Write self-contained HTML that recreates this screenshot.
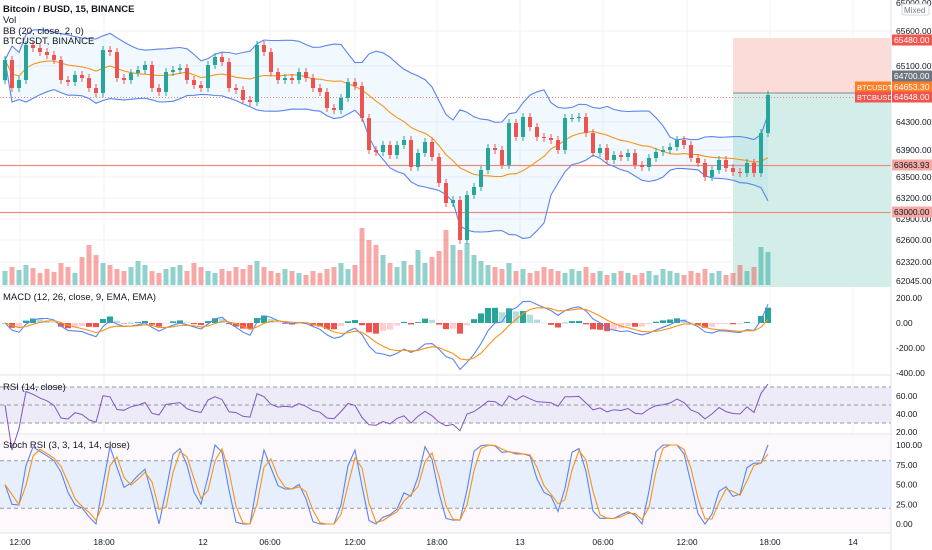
<!DOCTYPE html>
<html><head><meta charset="utf-8"><style>
html,body{margin:0;padding:0;background:#fff;width:932px;height:550px;overflow:hidden}
svg{display:block;font-family:"Liberation Sans",sans-serif}
</style></head><body>
<svg id="chart" width="932" height="550" viewBox="0 0 932 550" xmlns="http://www.w3.org/2000/svg">
<rect x="0" y="0" width="932" height="550" fill="#ffffff"/>
<g id="grid"></g>
<g id="panes"></g>
<g id="position">
  <rect x="733" y="38" width="158" height="55" fill="#fbdcd9"/>
  <rect x="733" y="93" width="158" height="194" fill="#d3eee8"/>
  <line x1="733" y1="93" x2="891" y2="93" stroke="#888" stroke-width="1"/>
</g>
<g id="levels">
  <line x1="0" y1="165.5" x2="891" y2="165.5" stroke="#f28b82" stroke-width="1.3"/>
  <line x1="0" y1="212.5" x2="891" y2="212.5" stroke="#f28b82" stroke-width="1.3"/>
  <line x1="0" y1="97.5" x2="891" y2="97.5" stroke="#f28b82" stroke-width="1" stroke-dasharray="1,2"/>
</g>
<g id="vol"></g>
<g id="bb"></g>
<g id="candles"></g>
<g id="macd"></g>
<g id="rsi"></g>
<g id="stoch"></g>
<g id="axes"></g>
<g font-size="9.5" fill="#131722">
  <text x="3" y="12" font-weight="bold">Bitcoin / BUSD, 15, BINANCE</text>
  <text x="3" y="23">Vol</text>
  <text x="3" y="34">BB (20, close, 2, 0)</text>
  <text x="3" y="44">BTCUSDT, BINANCE</text>
  <text x="3" y="300">MACD (12, 26, close, 9, EMA, EMA)</text>
  <text x="3" y="390">RSI (14, close)</text>
  <text x="3" y="448">Stoch RSI (3, 3, 14, 14, close)</text>
</g>
</svg>
<script>
// ---- data (30-minute sampling of the 15m chart) ----
const closes=[65192,64788,64903,65408,65365,65307,65264,65192,64903,64875,64976,64932,64788,64716,65336,65307,64932,64903,65004,65048,65120,64788,64730,65019,65048,65076,64903,64831,64788,65120,65235,65163,64788,64759,64615,64586,65408,65307,65019,64903,64932,64903,65019,64932,64788,64730,64500,64471,64644,64875,64817,64355,63894,63865,63966,63822,63966,64038,63649,63851,64009,63793,63418,63130,63173,62596,63245,63361,63606,63923,63894,63678,64283,64082,64370,64226,64082,64067,64038,63894,64355,64355,64370,64139,63851,63923,63750,63822,63793,63851,63678,63649,63779,63865,63894,63937,64038,63966,63779,63707,63505,63606,63750,63634,63577,63562,63707,63562,64139,64687];
const volumes=[14,18,15,20,17,12,16,13,22,18,12,28,40,30,22,20,16,14,18,24,20,14,12,16,18,20,14,22,18,14,12,16,14,18,16,20,24,18,14,12,16,14,12,10,14,12,16,18,22,16,20,57,45,40,30,22,18,24,20,35,22,28,34,55,40,35,42,30,24,20,18,16,22,14,16,12,14,18,16,14,12,16,14,18,12,14,10,12,14,12,10,12,14,10,16,14,12,10,14,12,16,12,14,10,12,20,14,18,38,33];
const timeLabels=["12:00","18:00","12","06:00","12:00","18:00","13","06:00","12:00","18:00","14"];
const timeX=[20,104,203,270,355,437,520,603,687,770,853];
const priceTicks=[65600,65100,64300,63900,63500,63200,62900,62600,62320,62045];
const priceTickY=[31,66,122,150,177,198,219,240,262,281];
const macdTicks=[200,0,-200,-400];
const rsiTicks=[60,40,20];
const stochTicks=[100,75,50,25,0];

// ---- scales ----
const NS="http://www.w3.org/2000/svg";
const xOf=i=>5+7*i;
const yP=p=>212-(p-63000)*0.06935;
const yMacd=v=>323-v*0.125;
const yRsi=v=>405-(v-50)*0.9;
const ySt=v=>524-v*0.79;
function mk(tag,attrs,parent){const e=document.createElementNS(NS,tag);for(const k in attrs)e.setAttribute(k,attrs[k]);parent.appendChild(e);return e;}
function path(vals,fy,start){let d="";vals.forEach((v,i)=>{if(v==null||i<start)return;d+=(d?"L":"M")+xOf(i).toFixed(1)+","+fy(v).toFixed(1);});return d;}
const G=id=>document.getElementById(id);

// grid
const grid=G('grid');
timeX.forEach(x=>{const l=mk('line',{x1:x,y1:0,x2:x,y2:533,stroke:'#f0f3fa','stroke-width':1},grid);});
priceTickY.forEach(y=>{const l=mk('line',{x1:0,y1:y,x2:891,y2:y,stroke:'#f0f3fa'},grid);});

// pane backgrounds
const panes=G('panes');
let r=mk('rect',{x:0,y:yRsi(70),width:891,height:yRsi(30)-yRsi(70),fill:'#eeebf8'},panes);

r=mk('rect',{x:0,y:435,width:891,height:98,fill:'#fdf8fb'},panes);

r=mk('rect',{x:0,y:ySt(80),width:891,height:ySt(20)-ySt(80),fill:'#e8effc'},panes);

[[yRsi(70),'rsi-upper'],[yRsi(50),'rsi-mid'],[yRsi(30),'rsi-lower'],[ySt(80),'stoch-upper'],[ySt(20),'stoch-lower']].forEach(([y,n])=>{const l=mk('line',{x1:0,y1:y,x2:891,y2:y,stroke:'#9598a1','stroke-dasharray':'4,3','stroke-width':1},panes);});
[286,375,434,533].forEach(y=>{const l=mk('line',{x1:0,y1:y,x2:932,y2:y,stroke:'#e0e3eb'},panes);});

// candles & volume
const opens=closes.map((c,i)=>i?closes[i-1]:64900);
const cg=G('candles'),vg=G('vol');
closes.forEach((c,i)=>{
  const o=opens[i],up=c>=o,col=up?'#26a69a':'#ef5350',x=xOf(i);
  const w=mk('line',{x1:x,y1:yP(Math.max(o,c))-4,x2:x,y2:yP(Math.min(o,c))+4,stroke:col,'stroke-width':1},cg);
  
  const top=yP(Math.max(o,c)),h=Math.max(1,Math.abs(yP(o)-yP(c)));
  const b=mk('rect',{x:x-2,y:top,width:4,height:h,fill:col},cg);
  
  const vb=mk('rect',{x:x-2.5,y:285-volumes[i],width:5,height:volumes[i],fill:up?'rgba(38,166,154,0.5)':'rgba(239,83,80,0.5)'},vg);
  
});

// bollinger
const N=13,basis=[],upper=[],lower=[];
closes.forEach((c,i)=>{const s=closes.slice(Math.max(0,i-N+1),i+1);const m=s.reduce((a,b)=>a+b,0)/s.length;const sd=Math.sqrt(s.reduce((a,b)=>a+(b-m)*(b-m),0)/s.length);basis.push(m);upper.push(m+2*sd);lower.push(m-2*sd);});
const bb=G('bb');
let fd=path(upper,yP,0);for(let i=closes.length-1;i>=0;i--)fd+="L"+xOf(i)+","+yP(lower[i]).toFixed(1);
let e=mk('path',{d:fd+"Z",fill:'rgba(33,150,243,0.06)'},bb);
e=mk('path',{d:path(upper,yP,0),fill:'none',stroke:'#5b84f0','stroke-width':1.1},bb);
e=mk('path',{d:path(lower,yP,0),fill:'none',stroke:'#5b84f0','stroke-width':1.1},bb);
e=mk('path',{d:path(basis,yP,0),fill:'none',stroke:'#f7931a','stroke-width':1.1},bb);

// macd
function ema(a,n){const k=2/(n+1);const o=[];a.forEach((v,i)=>o.push(i?v*k+o[i-1]*(1-k):v));return o;}
const e1=ema(closes,6),e2=ema(closes,13),macd=closes.map((c,i)=>e1[i]-e2[i]),sig=ema(macd,5),hist=macd.map((m,i)=>m-sig[i]);
const mg=G('macd');
hist.forEach((h,i)=>{const prev=i?hist[i-1]:0;const col=h>=0?(h>=prev?'#26a69a':'#b2dfdb'):(h<prev?'#ef5350':'#ffcdd2');const y0=yMacd(0),y1=yMacd(h);
  const b=mk('rect',{x:xOf(i)-3,y:Math.min(y0,y1),width:6,height:Math.max(0.5,Math.abs(y1-y0)),fill:col},mg);});
e=mk('path',{d:path(macd,yMacd,0),fill:'none',stroke:'#5b84f0','stroke-width':1.1},mg);
e=mk('path',{d:path(sig,yMacd,0),fill:'none',stroke:'#f7931a','stroke-width':1.1},mg);

// rsi
const rsi=[];let ag=0,al=0;const P=10;
closes.forEach((c,i)=>{if(!i){rsi.push(50);return;}const d=c-closes[i-1];const g=Math.max(d,0),l=Math.max(-d,0);ag=(ag*(P-1)+g)/P;al=(al*(P-1)+l)/P;rsi.push(al===0?100:100-100/(1+ag/al));});
e=mk('path',{d:path(rsi,yRsi,0),fill:'none',stroke:'#7e57c2','stroke-width':1},G('rsi'));

// stoch rsi
const SL=8;
const st=rsi.map((v,i)=>{const s=rsi.slice(Math.max(0,i-SL+1),i+1);const lo=Math.min(...s),hi=Math.max(...s);return hi===lo?50:(v-lo)/(hi-lo)*100;});
const sma=(a,n)=>a.map((v,i)=>{const s=a.slice(Math.max(0,i-n+1),i+1);return s.reduce((x,y)=>x+y,0)/s.length;});
const kL=sma(st,2),dL=sma(kL,2);
e=mk('path',{d:path(kL,ySt,0),fill:'none',stroke:'#5b84f0','stroke-width':1.1},G('stoch'));
e=mk('path',{d:path(dL,ySt,0),fill:'none',stroke:'#f7931a','stroke-width':1.1},G('stoch'));

// axes
const ax=G('axes');
e=mk('rect',{x:891,y:0,width:41,height:550,fill:'#fff'},ax);
e=mk('line',{x1:891,y1:0,x2:891,y2:550,stroke:'#e0e3eb'},ax);
function txt(x,y,s,name,attrs){const t=mk('text',Object.assign({x:x,y:y,'font-size':8.5,fill:'#131722'},attrs||{}),ax);t.textContent=s;return t;}
txt(896,6,"65000.00","price-tick");
priceTicks.forEach((p,i)=>txt(896,priceTickY[i]+3,p.toFixed(2),'price-tick'));
macdTicks.forEach(v=>txt(896,yMacd(v)+3,v.toFixed(2),'macd-tick'));
rsiTicks.forEach(v=>txt(896,yRsi(v)+3,v.toFixed(2),'rsi-tick'));
stochTicks.forEach(v=>txt(896,ySt(v)+3,v.toFixed(2),'stoch-tick'));
timeLabels.forEach((s,i)=>txt(timeX[i],545,s,'time-tick',{'text-anchor':'middle'}));
e=mk('rect',{x:902,y:4,width:27,height:11,fill:'#fff',stroke:'#d1d4dc',rx:2},ax);
txt(904,13,"Mixed",'mixed-label',{'font-size':8,fill:'#787b86'});
function tag(x,y,w,bg,s,fg,name,fs){const g=mk('rect',{x:x,y:y-5.5,width:w,height:11,fill:bg},ax);txt(x+2,y+3,s,name,{fill:fg,'font-size':fs||8.5});}
tag(892,40,40,'#f0544c','65480.00','#fff','stop-price-label');
tag(892,76,40,'#6f7580','64700.00','#fff','entry-price-label');
tag(855,87,36,'#ff7f27','BTCUSDT','#fff','btcusdt-name-label',7.5);
tag(892,87,40,'#ff7f27','64653.30','#fff','btcusdt-price-label');
tag(855,97,36,'#f0544c','BTCBUSD','#fff','btcbusd-name-label',7.5);
tag(892,97,40,'#f0544c','64648.00','#fff','btcbusd-price-label');
tag(892,165,40,'#f6a9a3','63663.93','#131722','level-63663-label');
tag(892,212,40,'#f6a9a3','63000.00','#131722','level-63000-label');
</script>
</body></html>
